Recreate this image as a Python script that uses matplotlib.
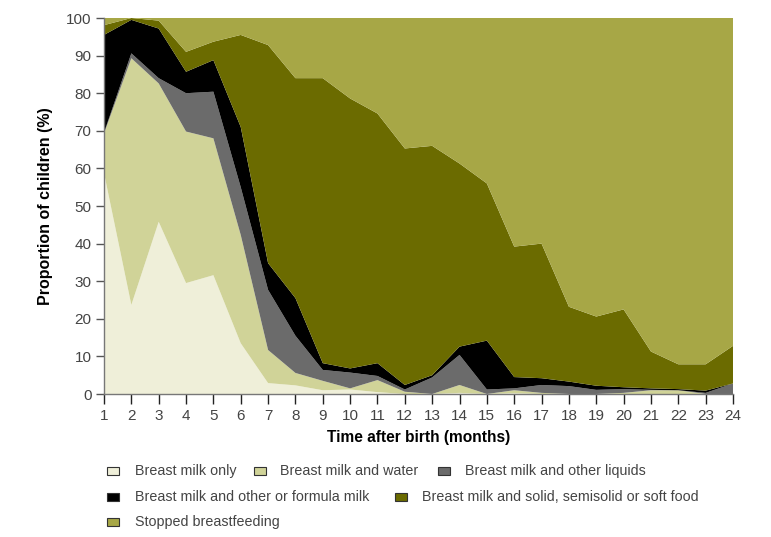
import matplotlib
matplotlib.use("Agg")
import matplotlib.pyplot as plt
from matplotlib.patches import Rectangle

months = list(range(1, 25))
series_names = [
    "Breast milk only",
    "Breast milk and water",
    "Breast milk and other liquids",
    "Breast milk and other or formula milk",
    "Breast milk and solid, semisolid or soft food",
    "Stopped breastfeeding",
]
breast_milk_only = [58.8, 23.7, 45.8, 29.5, 31.6, 13.5, 2.9, 2.3, 1.0, 1.2, 0.5, 0.0,
                    0.0, 0.3, 0.0, 0.2, 0.0, 0.0, 0.0, 0.0, 0.0, 0.0, 0.0, 0.0]
milk_and_water = [10.5, 65.6, 36.8, 40.3, 36.4, 28.8, 8.8, 3.3, 2.5, 0.3, 3.2, 0.6,
                  0.0, 2.1, 0.0, 0.8, 0.3, 0.0, 0.0, 0.3, 1.0, 1.0, 0.0, 0.0]
other_liquids = [0.2, 1.3, 1.4, 10.2, 12.4, 12.7, 16.0, 9.9, 2.9, 4.2, 1.1, 0.6,
                 4.4, 8.0, 1.2, 0.5, 2.1, 2.1, 1.1, 1.0, 0.1, 0.0, 0.3, 2.8]
formula_milk = [26.0, 8.9, 13.2, 5.7, 8.4, 16.0, 7.1, 10.0, 1.8, 1.1, 3.4, 1.2,
                0.6, 2.2, 13.0, 3.0, 1.8, 1.2, 1.1, 0.5, 0.4, 0.3, 0.6, 0.0]
solid_food = [2.6, 0.5, 2.1, 5.3, 4.9, 24.5, 58.0, 58.5, 75.8, 71.8, 66.4, 62.9,
              61.0, 48.7, 41.8, 34.7, 35.8, 19.9, 18.4, 20.7, 9.8, 6.6, 7.0, 10.0]
stopped = [1.9, 0.0, 0.7, 9.0, 6.3, 4.5, 7.2, 16.0, 16.0, 21.4, 25.4, 34.7,
           34.0, 38.7, 44.0, 60.8, 60.0, 76.8, 79.4, 77.5, 88.7, 92.1, 92.1, 87.2]
y_ticks = list(range(0, 101, 10))

colors = ["#efefd9", "#d0d398", "#6b6b6b", "#000000", "#6b6b00", "#a7a746"]

W, H = 771, 537
fig = plt.figure(figsize=(W / 100, H / 100), dpi=100)
ax = fig.add_axes([104 / W, 1 - 394 / H, (733 - 104) / W, (394 - 18) / H])

ax.stackplot(months, breast_milk_only, milk_and_water, other_liquids, formula_milk,
             solid_food, stopped, colors=colors, linewidth=0)
ax.set_xlim(1, 24)
ax.set_ylim(0, 100)
ax.set_xticks(months)
ax.set_yticks(y_ticks)

font = ["Liberation Sans", "DejaVu Sans"]
for s in ["top", "right"]:
    ax.spines[s].set_visible(False)
for s in ["left", "bottom"]:
    ax.spines[s].set_color("#777777")
    ax.spines[s].set_linewidth(1)
ax.tick_params(axis="x", length=7, width=1, color="#222222", pad=4)
ax.tick_params(axis="y", length=6, width=1, color="#555555", pad=3)
for lab in ax.get_xticklabels() + ax.get_yticklabels():
    lab.set_family(font)
    lab.set_fontsize(11)
    lab.set_color("#444444")

ax.set_xlabel("Time after birth (months)", family=font, fontsize=11.2, fontweight="bold",
              labelpad=5)
ax.set_ylabel("Proportion of children (%)", family=font, fontsize=11.5, fontweight="bold",
              labelpad=9)

# legend (manual layout)
rows = [471, 497, 522]
items = [
    (0, 0, 107, 135),
    (1, 0, 254, 280),
    (2, 0, 438, 465),
    (3, 1, 107, 135),
    (4, 1, 395, 422),
    (5, 2, 107, 135),
]
for idx, r, sx, tx in items:
    yc = rows[r]
    rect = Rectangle((sx / W, 1 - (yc + 4) / H), 12 / W, 8 / H, transform=fig.transFigure,
                     facecolor=colors[idx], edgecolor="#333333", linewidth=0.8)
    fig.patches.append(rect)
    fig.text(tx / W, 1 - yc / H, series_names[idx], family=font, fontsize=10.3,
             color="#444444", va="center", ha="left")

fig.savefig("out.png", dpi=100)
